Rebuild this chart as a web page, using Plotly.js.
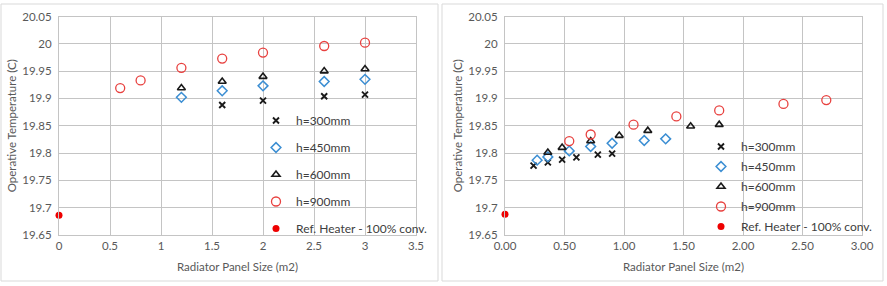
<!DOCTYPE html>
<html>
<head>
<meta charset="utf-8">
<script src="https://cdn.plot.ly/plotly-3.0.1.min.js"></script>
<style>
html,body{margin:0;padding:0;background:#fff;}
#chart{width:887px;height:286px;}
</style>
</head>
<body>
<div id="chart"></div>
<script>
// ---- Left chart: radiator panel length (m) ----
const L_x300 = [1.6, 2, 2.6, 3];
const L_y300 = [19.888, 19.896, 19.904, 19.907];
const L_x450 = [1.2, 1.6, 2, 2.6, 3];
const L_y450 = [19.902, 19.914, 19.923, 19.931, 19.935];
const L_x600 = [1.2, 1.6, 2, 2.6, 3];
const L_y600 = [19.919, 19.931, 19.940, 19.950, 19.954];
const L_x900 = [0.6, 0.8, 1.2, 1.6, 2, 2.6, 3];
const L_y900 = [19.919, 19.933, 19.956, 19.973, 19.984, 19.996, 20.002];
const L_xRef = [0];
const L_yRef = [19.686];

// ---- Right chart: radiator panel size (m2) ----
const R_x300 = [0.24, 0.36, 0.48, 0.60, 0.78, 0.90];
const R_y300 = [19.777, 19.783, 19.788, 19.792, 19.797, 19.799];
const R_x450 = [0.27, 0.36, 0.54, 0.72, 0.90, 1.17, 1.35];
const R_y450 = [19.787, 19.793, 19.804, 19.812, 19.818, 19.823, 19.826];
const R_x600 = [0.36, 0.48, 0.72, 0.96, 1.20, 1.56, 1.80];
const R_y600 = [19.801, 19.810, 19.822, 19.832, 19.841, 19.849, 19.852];
const R_x900 = [0.54, 0.72, 1.08, 1.44, 1.80, 2.34, 2.70];
const R_y900 = [19.822, 19.834, 19.852, 19.867, 19.878, 19.890, 19.897];
const R_xRef = [0];
const R_yRef = [19.688];

const seriesNames = ['h=300mm', 'h=450mm', 'h=600mm', 'h=900mm', 'Ref. Heater - 100% conv.'];
const xTitle = 'Radiator Panel Size (m2)';
const yTitle = 'Operative Temperature (C)';

const RED = '#e8413f', BLUE = '#3b8ed3', BLACK = '#1a1a1a';
const styles = [
  {symbol: 'x-thin', size: 6, color: BLACK, line: {width: 1.9, color: BLACK}},
  {symbol: 'diamond-open', size: 7.5, color: BLUE, line: {width: 1.5, color: BLUE}},
  {symbol: 'triangle-up-open', size: 7, color: BLACK, line: {width: 1.6, color: BLACK}},
  {symbol: 'circle-open', size: 9, color: RED, line: {width: 1.3, color: RED}},
  {symbol: 'circle', size: 7, color: '#ee0000', line: {width: 0}}
];

function mk(x, y, i, side) {
  return {
    type: 'scatter', mode: 'markers', x: x, y: y,
    name: seriesNames[i],
    marker: styles[i],
    xaxis: side === 'L' ? 'x' : 'x2',
    yaxis: side === 'L' ? 'y' : 'y2',
    legend: side === 'L' ? 'legend' : 'legend2',
    legendgroup: side + i,
    cliponaxis: false
  };
}

const data = [
  mk(L_x300, L_y300, 0, 'L'), mk(L_x450, L_y450, 1, 'L'), mk(L_x600, L_y600, 2, 'L'),
  mk(L_x900, L_y900, 3, 'L'), mk(L_xRef, L_yRef, 4, 'L'),
  mk(R_x300, R_y300, 0, 'R'), mk(R_x450, R_y450, 1, 'R'), mk(R_x600, R_y600, 2, 'R'),
  mk(R_x900, R_y900, 3, 'R'), mk(R_xRef, R_yRef, 4, 'R')
];

const W = 887, H = 286;
const FONT = 'Lato, "Open Sans", sans-serif';
const GRID = '#c4c4c4';
const tickFont = {family: FONT, size: 11.5, color: '#595959'};
const titleFont = {family: FONT, size: 11.5, color: '#595959'};

function yax(anchor) {
  return {
    anchor: anchor, domain: [1 - 235 / H, 1 - 16.5 / H],
    range: [19.65, 20.05], tick0: 19.65, dtick: 0.05,
    showgrid: true, gridcolor: GRID, gridwidth: 1,
    showline: true, linecolor: GRID, mirror: true, zeroline: false,
    ticks: '', tickfont: tickFont, ticklabelstandoff: 4,
    title: {text: yTitle, font: titleFont, standoff: 3}
  };
}
function xax(anchor, domain, maxv, fmt) {
  return {
    anchor: anchor, domain: domain,
    range: [0, maxv], tick0: 0, dtick: 0.5, tickformat: fmt,
    showgrid: true, gridcolor: GRID, gridwidth: 1,
    showline: true, linecolor: GRID, mirror: true, zeroline: false,
    ticks: '', tickfont: tickFont,
    title: {text: xTitle, font: titleFont, standoff: 12}
  };
}

const legendBase = {
  bgcolor: 'rgba(0,0,0,0)', borderwidth: 0,
  font: {family: FONT, size: 12, color: '#404040'},
  traceorder: 'grouped', xanchor: 'left', yanchor: 'top', itemwidth: 30
};

const layout = {
  width: W, height: H,
  margin: {l: 0, r: 0, t: 0, b: 0},
  paper_bgcolor: '#ffffff', plot_bgcolor: '#ffffff',
  showlegend: true,
  xaxis: xax('y', [59 / W, 416 / W], 3.5, ''),
  yaxis: yax('x'),
  xaxis2: xax('y2', [505 / W, 862 / W], 3.0, '.2f'),
  yaxis2: yax('x2'),
  legend: Object.assign({}, legendBase, {x: 256 / W, y: 1 - 106 / H, tracegroupgap: 8}),
  legend2: Object.assign({}, legendBase, {x: 701 / W, y: 1 - 132 / H, tracegroupgap: 1}),
  shapes: [
    {type: 'rect', xref: 'paper', yref: 'paper', x0: 1 / W, x1: 438 / W, y0: 1 - 281 / H, y1: 1 - 4 / H,
     line: {color: '#d9d9d9', width: 1}, layer: 'below'},
    {type: 'rect', xref: 'paper', yref: 'paper', x0: 442 / W, x1: 883 / W, y0: 1 - 281 / H, y1: 1 - 4 / H,
     line: {color: '#d9d9d9', width: 1}, layer: 'below'}
  ]
};

Plotly.newPlot('chart', data, layout, {staticPlot: true, displayModeBar: false});
</script>
</body>
</html>
